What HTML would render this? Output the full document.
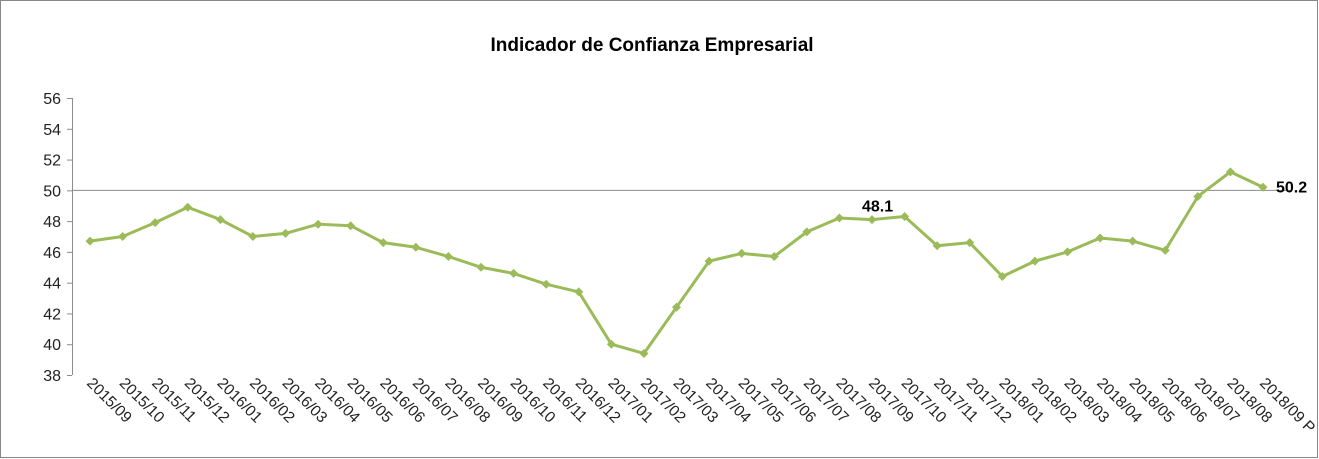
<!DOCTYPE html>
<html><head><meta charset="utf-8"><style>
html,body{margin:0;padding:0;background:#fff}
svg{display:block;font-family:"Liberation Sans",Arial,sans-serif}
</style></head><body>
<svg id="chart" width="1319" height="459" viewBox="0 0 1319 459" xmlns="http://www.w3.org/2000/svg">
<rect x="0.5" y="0.5" width="1317" height="457" fill="#fff" stroke="#888"/>
<text x="652" y="51" text-anchor="middle" font-size="19" font-weight="bold" fill="#000">Indicador de Confianza Empresarial</text>
<g id="yaxis"></g>
<g id="xaxis"></g>
<g id="series"></g>
</svg>
<script>
const categories=["2015/09","2015/10","2015/11","2015/12","2016/01","2016/02","2016/03","2016/04","2016/05","2016/06","2016/07","2016/08","2016/09","2016/10","2016/11","2016/12","2017/01","2017/02","2017/03","2017/04","2017/05","2017/06","2017/07","2017/08","2017/09","2017/10","2017/11","2017/12","2018/01","2018/02","2018/03","2018/04","2018/05","2018/06","2018/07","2018/08","2018/09 P"];
const values=[46.7,47.0,47.9,48.9,48.1,47.0,47.2,47.8,47.7,46.6,46.3,45.7,45.0,44.6,43.9,43.4,40.0,39.4,42.4,45.4,45.9,45.7,47.3,48.2,48.1,48.3,46.4,46.6,44.4,45.4,46.0,46.9,46.7,46.1,49.6,51.2,50.2];
const yTicks=[38,40,42,44,46,48,50,52,54,56];
const labelIdx=[24,36];
const labelText=["48.1","50.2"];
const NS="http://www.w3.org/2000/svg";
const x0=90,x1=1263,yTop=98,yBot=375,yMin=38,yMax=56;
const X=i=>x0+(x1-x0)*i/(categories.length-1);
const Y=v=>yBot-(v-yMin)/(yMax-yMin)*(yBot-yTop);
function mk(tag,attrs,parent){const e=document.createElementNS(NS,tag);for(const k in attrs)e.setAttribute(k,attrs[k]);parent.appendChild(e);return e;}
const ya=document.getElementById('yaxis'),xa=document.getElementById('xaxis'),sg=document.getElementById('series');
const g50=mk('line',{x1:72,x2:1290,y1:Y(50),y2:Y(50),stroke:'#8c8c8c','stroke-width':1},ya);


const ax=mk('line',{x1:72.5,x2:72.5,y1:yTop,y2:yBot,stroke:'#8c8c8c'},ya);


yTicks.forEach(t=>{
  const tk=mk('line',{x1:67,x2:72,y1:Y(t)+0.5,y2:Y(t)+0.5,stroke:'#8c8c8c'},ya);
  
  
  const tx=mk('text',{x:61,y:Y(t)+6,'text-anchor':'end','font-size':16,fill:'#222'},ya);
  
  
  tx.textContent=t;
});
categories.forEach((c,i)=>{
  const tx=mk('text',{x:0,y:0,'font-size':15.5,fill:'#222',transform:`translate(${X(i)-4},${yBot+9}) rotate(45)`},xa);
  
  
  tx.textContent=c;
});
const pts=values.map((v,i)=>X(i)+','+Y(v)).join(' ');
const pl=mk('polyline',{points:pts,fill:'none',stroke:'#9bbb59','stroke-width':3,'stroke-linejoin':'round'},sg);


values.forEach((v,i)=>{
  const cx=X(i),cy=Y(v),r=4.5;
  const m=mk('polygon',{points:`${cx},${cy-r} ${cx+r},${cy} ${cx},${cy+r} ${cx-r},${cy}`,fill:'#9bbb59'},sg);
  
  
});
labelIdx.forEach((idx,k)=>{
  const last=idx===values.length-1;
  const tx=mk('text',{x:last?X(idx)+13:X(idx)-10,y:last?Y(values[idx])+5:Y(values[idx])-8,'font-size':16,'font-weight':'bold',fill:'#000'},sg);
  
  
  tx.textContent=labelText[k];
});
</script>
</body></html>
